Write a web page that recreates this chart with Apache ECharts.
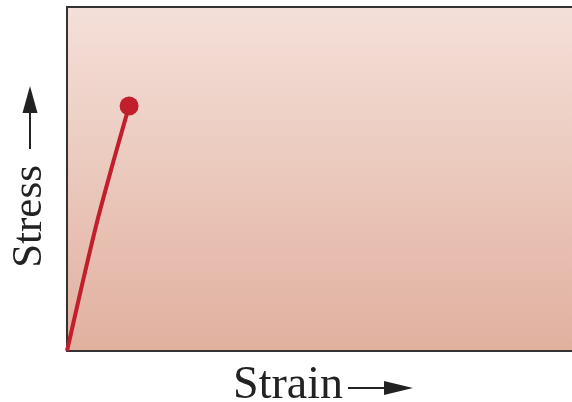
<!DOCTYPE html>
<html>
<head>
<meta charset="utf-8">
<script src="https://cdn.jsdelivr.net/npm/echarts@6/dist/echarts.min.js"></script>
<style>
  html, body { margin: 0; padding: 0; background: #fff; }
  #chart { width: 572px; height: 402px; }
</style>
</head>
<body>
<div id="chart"></div>
<script>
// stress-strain curve (arbitrary units, 0-100 each axis)
const strain = [0, 3.0, 5.9, 9.0, 12.2]
const stress = [0, 19.5, 37.5, 54.5, 71.2]
const xLabel = 'Strain'
const yLabel = 'Stress'

const curveColor = '#c01f2b'
const chart = echarts.init(document.getElementById('chart'))

const points = strain.map((x, i) => [x, stress[i]])

chart.setOption({
  animation: false,
  grid: {
    left: 67,
    right: -4,
    top: 7,
    bottom: 51,
    outerBoundsMode: 'none',
    containLabel: false,
    show: true,
    borderColor: '#333',
    borderWidth: 2,
    backgroundColor: new echarts.graphic.LinearGradient(0, 0, 0, 1, [
      { offset: 0, color: '#f4e0d9' },
      { offset: 1, color: '#e1b09f' }
    ])
  },
  xAxis: {
    type: 'value',
    min: 0,
    max: 100,
    name: xLabel,
    nameLocation: 'middle',
    nameGap: 12,
    nameTextStyle: {
      fontFamily: 'Liberation Serif',
      fontSize: 46,
      color: '#222',
      padding: [0, 67, 0, 0]
    },
    axisLine: { show: false },
    axisTick: { show: false },
    axisLabel: { show: false },
    splitLine: { show: false }
  },
  yAxis: {
    type: 'value',
    min: 0,
    max: 100,
    name: yLabel,
    nameLocation: 'middle',
    nameGap: 16,
    nameRotate: 90,
    nameTextStyle: {
      fontFamily: 'Liberation Serif',
      fontSize: 43,
      color: '#222',
      padding: [0, 75, 0, 0]
    },
    axisLine: { show: false },
    axisTick: { show: false },
    axisLabel: { show: false },
    splitLine: { show: false }
  },
  graphic: [
    // arrow after "Strain"
    { type: 'line', shape: { x1: 348, y1: 388, x2: 390, y2: 388 }, style: { stroke: '#222', lineWidth: 2 } },
    { type: 'polygon', shape: { points: [[384, 381], [413, 388], [384, 395]] }, style: { fill: '#222' } },
    // arrow after "Stress"
    { type: 'line', shape: { x1: 30, y1: 149, x2: 30, y2: 108 }, style: { stroke: '#222', lineWidth: 2 } },
    { type: 'polygon', shape: { points: [[22.5, 113], [30, 86], [37.5, 113]] }, style: { fill: '#222' } }
  ],
  series: [
    {
      type: 'line',
      data: points,
      smooth: 0.3,
      showSymbol: false,
      lineStyle: { color: curveColor, width: 4 },
      z: 3
    },
    {
      type: 'scatter',
      data: [points[points.length - 1]],
      symbolSize: 19,
      itemStyle: { color: curveColor, opacity: 1 },
      z: 4
    }
  ]
})
</script>
</body>
</html>
